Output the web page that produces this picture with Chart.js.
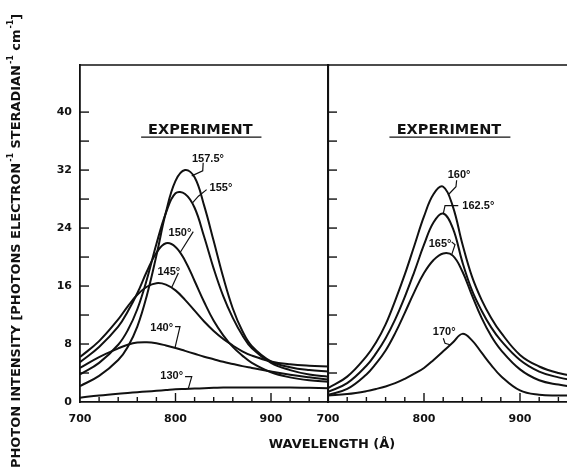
<!DOCTYPE html>
<html><head><meta charset="utf-8">
<script src="https://cdn.jsdelivr.net/npm/chart.js@4"></script>
<style>
html,body{margin:0;padding:0;background:#fff;overflow:hidden;width:567px;height:470px;}
#wrap{position:relative;width:567px;height:470px;overflow:hidden;background:#fff;}
canvas{position:absolute;top:0;}
</style></head><body>
<div id="wrap">
<canvas id="cL" width="567" height="470" style="left:0px"></canvas>
<canvas id="cR" width="278" height="470" style="left:300px"></canvas>
</div>
<script>
// ---------- data ----------
const wavelengths = [700,720,740,750,760,770,780,790,800,810,820,830,840,850,860,870,880,900,920,940,960];

// left panel
const curve130  = [0.6,0.9,1.15,1.25,1.35,1.45,1.55,1.65,1.75,1.8,1.85,1.9,1.95,2.0,2.0,2.0,2.0,2.0,2.0,1.95,1.9];
const curve140  = [4.7,6.2,7.4,7.9,8.2,8.25,8.1,7.8,7.45,7.05,6.65,6.25,5.9,5.55,5.25,4.95,4.7,4.2,3.75,3.4,3.1];
const curve145  = [6.2,8.4,11.4,13.2,14.8,15.9,16.4,16.2,15.4,14.1,12.6,11.1,9.8,8.7,7.8,7.0,6.4,5.6,5.2,5.0,4.9];
const curve150  = [5.5,7.6,10.4,12.5,15.0,18.0,20.6,21.9,21.4,19.5,16.7,13.8,11.2,9.2,7.6,6.4,5.4,4.1,3.4,3.0,2.8];
const curve155  = [3.8,5.4,7.9,9.9,12.8,16.9,21.8,26.1,28.8,28.7,26.8,22.8,18.4,14.6,11.6,9.2,7.4,5.4,4.4,3.8,3.5];
const curve1575 = [2.2,3.6,5.8,7.6,10.4,14.7,20.2,26.2,30.5,32.0,31.0,27.1,22.2,17.2,12.9,9.8,7.7,5.6,4.8,4.4,4.2];

// right panel
const curve160  = [1.9,3.5,6.3,8.2,10.7,14.0,17.6,21.6,25.6,28.7,29.7,27.0,21.8,17.3,14.1,11.6,9.6,6.5,4.9,4.0,3.5];
const curve1625 = [1.4,2.6,5.0,6.7,8.8,11.4,14.5,18.0,21.7,24.8,26.0,24.0,19.3,15.4,12.6,10.3,8.5,5.8,4.2,3.4,2.9];
const curve165  = [1.0,1.8,3.8,5.3,7.1,9.5,12.3,15.2,17.8,19.6,20.5,20.2,18.0,14.7,11.6,9.1,7.2,4.5,3.0,2.4,2.0];
const curve170  = [0.9,1.1,1.5,1.8,2.15,2.6,3.2,3.9,4.7,5.8,7.0,8.2,9.4,8.5,6.8,5.1,3.6,1.6,1.0,0.9,0.9];

const leftNames  = ['130°','140°','145°','150°','155°','157.5°'];
const rightNames = ['160°','162.5°','165°','170°'];

// axis ticks
const xLabelTicks = [700, 800, 900];
const xMinorTicks = [720,740,760,780,820,840,860,880,920,940];
const xMajorTicks = [800, 900];
const yLabelTicks = [0, 8, 16, 24, 32, 40];
const yMarkTicks  = [4, 8, 12, 16, 20, 24, 28, 32, 36, 40];

const panelTitle = 'EXPERIMENT';
const xTitle = 'WAVELENGTH (Å)';
const yTitleParts = [['PHOTON INTENSITY ',0],['[',0],['PHOTONS ELECTRON',0],['-1',1],[' STERADIAN',0],['-1',1],[' cm',0],['-1',1],[']',0]];

// ---------- annotation placement (data units) ----------
const leftAnno = [
  {name:'157.5°', at:[834,33.6],  leader:[[829,33.0],[828.5,31.9],[817,31.2]]},
  {name:'155°',   at:[847.6,29.5],leader:[[832.6,29.3],[824,28.4],[818,27.5]]},
  {name:'150°',   at:[804.7,23.3],leader:[[818.6,23.5],[804.7,20.6]]},
  {name:'145°',   at:[793,18.0],  leader:[[803,17.8],[796,15.8]]},
  {name:'140°',   at:[785.5,10.2],leader:[[799.5,10.4],[804.7,10.4],[799.5,7.5]]},
  {name:'130°',   at:[796,3.6],   leader:[[810,3.5],[817,3.5],[813.4,1.85]]}
];
const rightAnno = [
  {name:'160°',   at:[836.5,31.3],leader:[[834,30.6],[833.3,29.7],[825.3,28.6]]},
  {name:'162.5°', at:[856.6,27.1],leader:[[835.7,27.1],[821.9,27.1],[820.1,26.0]]},
  {name:'165°',   at:[816.7,21.8],leader:[[828.8,22.1],[832.3,21.7],[828.8,20.3]]},
  {name:'170°',   at:[821,9.7],   leader:[[820.1,8.8],[821.9,8.1],[827.1,7.9]]}
];
const titleAnno = {at:[826,37.5], underline:[764,890,36.55]};

// ---------- styles ----------
const INK = '#111';
const FONT_TICK = {family:'DejaVu Sans', weight:'bold', size:11};

function toPoints(arr){ return wavelengths.map((w,i)=>({x:w, y:arr[i]})); }
function ds(arr, label){ return {label, data: toPoints(arr), borderColor: INK, borderWidth: 2, pointRadius: 0, fill:false, tension:0.4}; }

function line(ctx, x1,y1,x2,y2){ ctx.beginPath(); ctx.moveTo(x1,y1); ctx.lineTo(x2,y2); ctx.stroke(); }

const framePlugin = {
  id:'frame',
  afterDraw(chart, args, opts){
    const {ctx, chartArea:a, scales:{x,y}} = chart;
    ctx.save();
    ctx.strokeStyle = INK; ctx.lineWidth = 1.6; ctx.lineCap='butt';
    line(ctx, a.left-1, a.top, a.right+1, a.top);
    if (opts.rightBorder) line(ctx, a.right, a.top, a.right, a.bottom);
    ctx.lineWidth = 1.4;
    for (const v of xMinorTicks){ const p = x.getPixelForValue(v); line(ctx,p,a.bottom,p,a.bottom-5); }
    for (const v of xMajorTicks){ const p = x.getPixelForValue(v); line(ctx,p,a.bottom,p,a.bottom-9); }
    for (const v of yMarkTicks){ const p = y.getPixelForValue(v); line(ctx,a.left,p,a.left+9,p); }
    // panel title
    const tx = x.getPixelForValue(titleAnno.at[0]), ty = y.getPixelForValue(titleAnno.at[1]);
    ctx.fillStyle = INK;
    ctx.font = 'bold 14.5px "DejaVu Sans"';
    ctx.textAlign='center'; ctx.textBaseline='middle';
    ctx.fillText(panelTitle, tx, ty);
    ctx.lineWidth = 1.4;
    const uy = y.getPixelForValue(titleAnno.underline[2]);
    line(ctx, x.getPixelForValue(titleAnno.underline[0]), uy, x.getPixelForValue(titleAnno.underline[1]), uy);
    // curve labels
    ctx.font = 'bold 11px "Liberation Sans"';
    ctx.lineWidth = 1.2;
    for (const an of opts.anno){
      ctx.fillText(an.name, x.getPixelForValue(an.at[0]), y.getPixelForValue(an.at[1]));
      ctx.beginPath();
      an.leader.forEach((p,i)=>{ const px=x.getPixelForValue(p[0]), py=y.getPixelForValue(p[1]); if(i===0) ctx.moveTo(px,py); else ctx.lineTo(px,py); });
      ctx.stroke();
    }
    ctx.restore();
  }
};

const axisTitlePlugin = {
  id:'axisTitles',
  afterDraw(chart){
    const ctx = chart.ctx;
    ctx.save();
    ctx.fillStyle = INK;
    // x title
    ctx.font = 'bold 13px "DejaVu Sans"';
    ctx.textAlign='center'; ctx.textBaseline='alphabetic';
    ctx.fillText(xTitle, 332, 448);
    // y title (rotated)
    const base = 13;
    const measure = (sz)=>{ let w=0; for (const [t,s] of yTitleParts){ ctx.font = 'bold '+(s? sz*0.62: sz)+'px "DejaVu Sans"'; w += ctx.measureText(t).width + (s?1:0);} return w; };
    const w13 = measure(base);
    const sz = base * 455 / w13;
    ctx.translate(15, 468);
    ctx.rotate(-Math.PI/2);
    ctx.textAlign='left';
    let cx = 0;
    const capH = sz*0.73;
    for (const [t,s] of yTitleParts){
      const fs = s ? sz*0.62 : sz;
      ctx.font = 'bold '+fs+'px "DejaVu Sans"';
      const by = s ? capH/2 - sz*0.55 : capH/2;
      if (s) cx += 1;
      ctx.fillText(t, cx, by);
      cx += ctx.measureText(t).width;
    }
    ctx.restore();
  }
};

function makeOptions(cfg){
  return {
    responsive:false, animation:false, devicePixelRatio:1,
    layout:{padding:cfg.padding},
    plugins:{legend:{display:false}, tooltip:{enabled:false}, title:{display:false}, frame:{anno:cfg.anno, rightBorder:cfg.rightBorder}},
    scales:{
      x:{type:'linear', min:700, max:960,
         grid:{display:false, drawTicks:false},
         border:{display:true, color:INK, width:1.8},
         afterBuildTicks: s => { s.ticks = xLabelTicks.map(v=>({value:v})); },
         ticks:{display:true, font:FONT_TICK, color:INK, padding:11, maxRotation:0, autoSkip:false, callback:v=>String(v)},
         afterFit: s => { s.height = 68; s.paddingLeft = 0; s.paddingRight = 0; }
      },
      y:{type:'linear', min:0, max:46.5,
         grid:{display:false, drawTicks:false},
         border:{display:true, color:INK, width:1.8},
         afterBuildTicks: s => { s.ticks = yLabelTicks.map(v=>({value:v})); },
         ticks:{display:cfg.yLabels, font:FONT_TICK, color:INK, padding:8, callback:v=>String(v)},
         afterFit: s => { s.width = cfg.yWidth; s.paddingTop = 0; s.paddingBottom = 0; }
      }
    }
  };
}

new Chart(document.getElementById('cL'), {
  type:'line',
  data:{datasets:[ds(curve130,leftNames[0]), ds(curve140,leftNames[1]), ds(curve145,leftNames[2]), ds(curve150,leftNames[3]), ds(curve155,leftNames[4]), ds(curve1575,leftNames[5])]},
  options: makeOptions({padding:{left:0,right:238.7,top:65,bottom:0}, yLabels:true, yWidth:80, anno:leftAnno, rightBorder:true}),
  plugins:[framePlugin, axisTitlePlugin]
});

new Chart(document.getElementById('cR'), {
  type:'line',
  data:{datasets:[ds(curve160,rightNames[0]), ds(curve1625,rightNames[1]), ds(curve165,rightNames[2]), ds(curve170,rightNames[3])]},
  options: makeOptions({padding:{left:0,right:0.4,top:65,bottom:0}, yLabels:false, yWidth:28, anno:rightAnno, rightBorder:false}),
  plugins:[framePlugin]
});
</script>
</body></html>
